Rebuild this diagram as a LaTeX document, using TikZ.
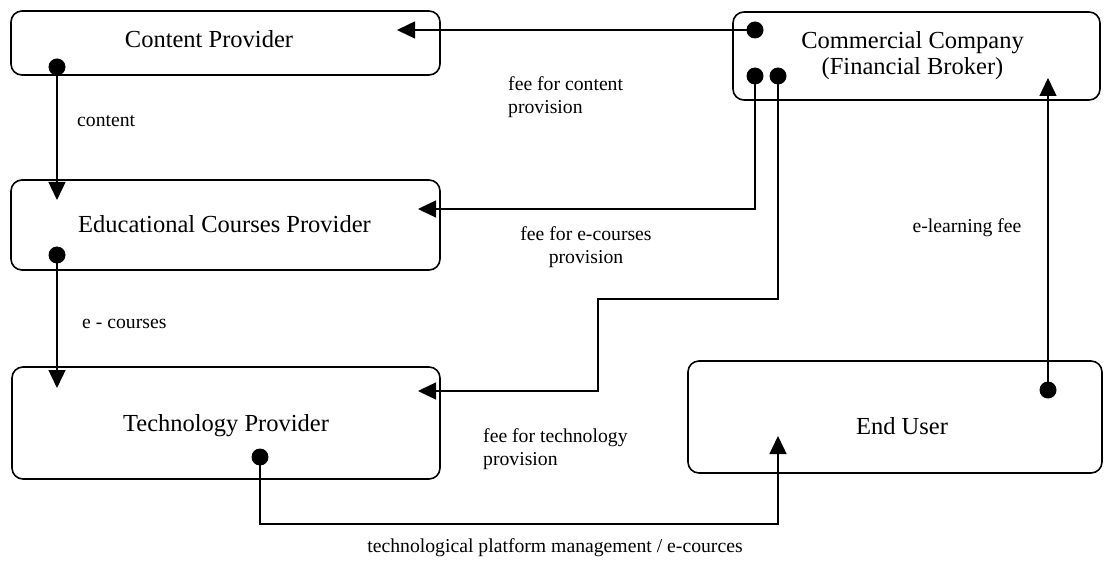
\documentclass[tikz,border=0pt]{standalone}
\usepackage{fontspec}
\setmainfont{Liberation Serif}
\usetikzlibrary{arrows.meta}
\tikzset{
  box/.style={draw, line width=1.6pt, rounded corners=11pt, inner sep=0pt},
  maintext/.style={inner sep=0pt, font=\fontsize{24.5}{26}\selectfont, align=center},
  lbl/.style={inner sep=0pt, font=\fontsize{19.7}{23}\selectfont},
  dot/.style={circle, fill=black, inner sep=0pt, minimum size=17pt},
  conn/.style={line width=1.4pt, -{Triangle[length=18pt,width=17pt]}},
}
\begin{document}
\begin{tikzpicture}[x=1pt,y=-1pt]
\useasboundingbox (0,0) rectangle (1104,580);
% boxes
\node[box, minimum width=429pt, minimum height=64pt] (cp) at (225.5,43) {};
\node[maintext] (cpt) at (209,39) {Content Provider};
\node[box, minimum width=367pt, minimum height=88pt] (cc) at (916.5,56) {};
\node[maintext] (cct) at (912.5,56) {Commercial Company\\(Financial Broker)};
\node[box, minimum width=429pt, minimum height=90pt] (ecp) at (225.5,225) {};
\node[maintext] (ecpt) at (224.5,224) {Educational Courses Provider};
\node[box, minimum width=428pt, minimum height=112pt] (tp) at (226,423) {};
\node[maintext] (tpt) at (226,426) {Technology Provider};
\node[box, minimum width=414pt, minimum height=112pt] (eu) at (895,417) {};
\node[maintext] (eut) at (902,426) {End User};
% dots
\node[dot] (d1) at (755,30) {};
\node[dot] (d2) at (755,76) {};
\node[dot] (d3) at (778,76) {};
\node[dot] (dcp) at (57,67) {};
\node[dot] (decp) at (57,255) {};
\node[dot] (dtp) at (260,457) {};
\node[dot] (deu) at (1048,390) {};
% arrow tip coordinates
\coordinate (acp) at (397,30);
\coordinate (aecp) at (418,209);
\coordinate (atp) at (418,391);
\coordinate (aecpTop) at (57,200);
\coordinate (atpTop) at (57,388);
\coordinate (aeu) at (778,436);
\coordinate (acc) at (1048,78);
% connectors
\draw[conn] (d1.center) -- (acp);
\draw[conn] (d2.center) |- (aecp);
\draw[conn] (d3.center) -- (778,299) -| (598,391) -- (atp);
\draw[conn] (dcp.center) -- (aecpTop);
\draw[conn] (decp.center) -- (atpTop);
\draw[conn] (dtp.center) -- (260,524) -| (aeu);
\draw[conn] (deu.center) -- (acc);
% labels
\node[lbl, anchor=west] (lcontent) at (77,121) {content};
\node[lbl, anchor=west] (lecourses) at (82,324) {e - courses};
\node[lbl, anchor=west, align=left] (lfcp) at (508,97) {fee for content\\provision};
\node[lbl, align=center] (lfec) at (586,247) {fee for e-courses\\provision};
\node[lbl, anchor=west, align=left] (lftp) at (483,449) {fee for technology\\provision};
\node[lbl] (lelf) at (967,228) {e-learning fee};
\node[lbl] (lbottom) at (555,548) {technological platform management / e-cources};
\end{tikzpicture}
\end{document}
